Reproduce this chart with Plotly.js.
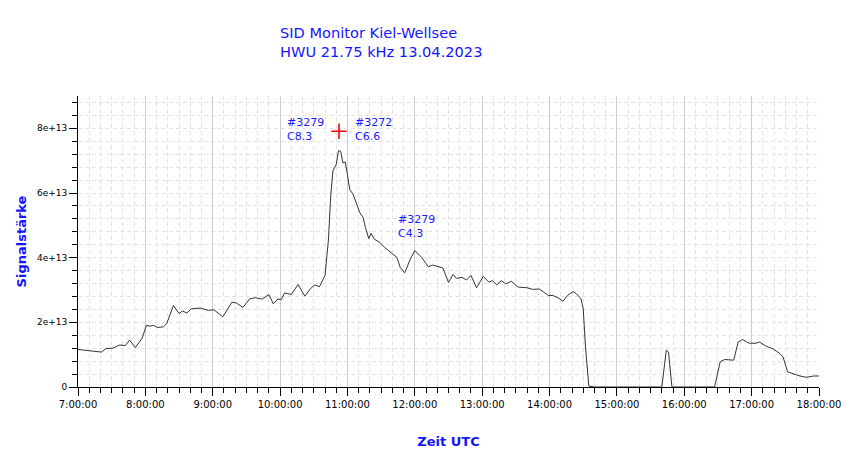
<!DOCTYPE html>
<html>
<head>
<meta charset="utf-8">
<script src="https://cdn.plot.ly/plotly-3.0.1.min.js"></script>
<style>html,body{margin:0;padding:0;background:#fff;}#chart{width:850px;height:459px;}</style>
</head>
<body>
<div id="chart"></div>
<script>
const dateStr = "2023-04-13";
const times = ["07:00","07:05","07:11","07:16","07:21","07:25","07:31","07:37","07:42","07:46","07:51","07:57",
"08:01","08:04","08:07","08:11","08:16","08:19","08:25","08:30","08:33","08:37","08:41","08:49","08:56",
"09:01","09:09","09:17","09:21","09:27","09:33","09:38","09:44","09:50","09:54","09:58",
"10:01","10:04","10:10","10:16","10:22","10:27","10:31","10:35","10:40","10:43","10:45","10:47","10:50","10:52","10:54","10:56","10:58",
"11:00","11:02","11:05","11:08","11:11","11:14","11:16","11:19","11:21","11:24","11:29","11:33","11:39","11:44","11:47","11:51","11:56",
"12:00","12:06","12:12","12:16","12:25","12:30","12:34","12:37","12:42","12:46","12:50","12:55",
"13:01","13:06","13:09","13:13","13:17","13:21","13:26","13:32","13:40","13:45","13:51","13:59",
"14:03","14:08","14:12","14:16","14:21","14:24","14:28","14:30","14:32","14:35","14:40",
"15:00","15:20","15:40","15:44","15:46","15:49","16:00","16:27","16:32","16:36","16:44","16:48","16:52","16:57",
"17:03","17:07","17:13","17:19","17:25","17:28","17:32","17:37","17:43","17:49","17:55","18:00"];
const signal = [1.16e13,1.14e13,1.12e13,1.10e13,1.08e13,1.19e13,1.20e13,1.30e13,1.28e13,1.45e13,1.22e13,1.50e13,
1.91e13,1.88e13,1.91e13,1.84e13,1.86e13,1.96e13,2.52e13,2.27e13,2.35e13,2.29e13,2.42e13,2.44e13,2.37e13,
2.39e13,2.17e13,2.62e13,2.60e13,2.46e13,2.73e13,2.76e13,2.72e13,2.86e13,2.57e13,2.72e13,
2.70e13,2.91e13,2.86e13,3.17e13,2.81e13,3.04e13,3.16e13,3.10e13,3.45e13,4.52e13,5.86e13,6.68e13,6.88e13,7.31e13,7.29e13,6.93e13,6.96e13,
6.57e13,6.11e13,5.96e13,5.70e13,5.39e13,5.24e13,4.93e13,4.59e13,4.75e13,4.57e13,4.47e13,4.32e13,4.16e13,4.01e13,3.70e13,3.53e13,3.96e13,
4.22e13,4.01e13,3.72e13,3.77e13,3.68e13,3.23e13,3.48e13,3.36e13,3.39e13,3.31e13,3.45e13,3.07e13,
3.42e13,3.24e13,3.29e13,3.16e13,3.29e13,3.19e13,3.27e13,3.09e13,3.07e13,3.02e13,3.03e13,2.83e13,
2.83e13,2.75e13,2.65e13,2.83e13,2.95e13,2.88e13,2.73e13,2.42e13,1.24e13,0.03e13,0,
0,0,0,1.14e13,1.08e13,0,0,0,0.78e13,0.85e13,0.83e13,1.39e13,1.47e13,1.36e13,
1.35e13,1.39e13,1.26e13,1.18e13,1.04e13,0.93e13,0.47e13,0.40e13,0.34e13,0.30e13,0.34e13,0.34e13];

const yTickVals = [0, 2e13, 4e13, 6e13, 8e13];
const yTickText = ["0", "2e+13", "4e+13", "6e+13", "8e+13"];

const flareLabels = ["#3279<br>C8.3", "#3272<br>C6.6", "#3279<br>C4.3"];
const flareLabelTimes = ["10:04:30", "11:05:00", "11:43:20"];
const flareLabelValues = [7.95e13, 7.95e13, 4.95e13];
const markerTime = ["10:52:30"];
const markerValue = [7.91e13];

const x = times.map(t => dateStr + " " + t + ":00");

const traces = [
  {x: x, y: signal, type: "scatter", mode: "lines", line: {color: "#333333", width: 1}, hoverinfo: "skip"},
  {x: markerTime.map(t => dateStr + " " + t), y: markerValue, type: "scatter", mode: "markers",
   marker: {symbol: "cross-thin", size: 11, line: {color: "#ff0000", width: 1.6}}, hoverinfo: "skip"}
];

const annotations = flareLabels.map((txt, i) => ({
  x: dateStr + " " + flareLabelTimes[i], y: flareLabelValues[i], xref: "x", yref: "y",
  text: txt, showarrow: false, xanchor: "left", yanchor: "middle", align: "left",
  font: {family: "DejaVu Sans", size: 11, color: "#1a1aff"}
}));

const gridDash = "4px,3px";

const layout = {
  width: 850, height: 459,
  margin: {l: 78, r: 31, t: 96, b: 72},
  paper_bgcolor: "#ffffff", plot_bgcolor: "#ffffff",
  showlegend: false,
  title: {text: "SID Monitor Kiel-Wellsee<br>HWU 21.75 kHz 13.04.2023", x: 280/850, xanchor: "left", xref: "container",
    y: 1 - 38/459, yanchor: "middle", yref: "container",
    font: {family: "DejaVu Sans", size: 14.6, color: "#1414ff"}},
  xaxis: {
    type: "date", range: [dateStr + " 07:00:00", dateStr + " 18:00:00"],
    dtick: 3600000, tick0: dateStr + " 07:00:00", tickformat: "%-H:%M:%S",
    ticks: "outside", ticklen: 8, tickcolor: "#000", tickwidth: 1,
    showline: true, linecolor: "#000", linewidth: 1,
    showgrid: true, gridcolor: "#cccccc", gridwidth: 1,
    zeroline: false,
    tickfont: {family: "DejaVu Sans", size: 10, color: "#000"},
    minor: {dtick: 600000, ticks: "outside", ticklen: 5, tickcolor: "#000", showgrid: true, gridcolor: "#e3e3e3", griddash: gridDash},
    title: {text: "<b>Zeit UTC</b>", font: {family: "DejaVu Sans", size: 13, color: "#1414ff"}, standoff: 27},
    fixedrange: true
  },
  yaxis: {
    range: [0, 9e13],
    tickvals: yTickVals, ticktext: yTickText,
    ticks: "outside", ticklen: 8, tickcolor: "#000", tickwidth: 1,
    showline: true, linecolor: "#000", linewidth: 1,
    showgrid: false,
    zeroline: false,
    tickfont: {family: "DejaVu Sans", size: 9, color: "#000"},
    minor: {dtick: 4e12, tick0: 0, ticks: "outside", ticklen: 5, tickcolor: "#000", showgrid: true, gridcolor: "#e3e3e3", griddash: gridDash},
    title: {text: "<b>Signalstärke</b>", font: {family: "DejaVu Sans", size: 13, color: "#1414ff"}, standoff: 7},
    fixedrange: true
  },
  annotations: annotations
};

Plotly.newPlot("chart", traces, layout, {displayModeBar: false, staticPlot: true});
</script>
</body>
</html>
